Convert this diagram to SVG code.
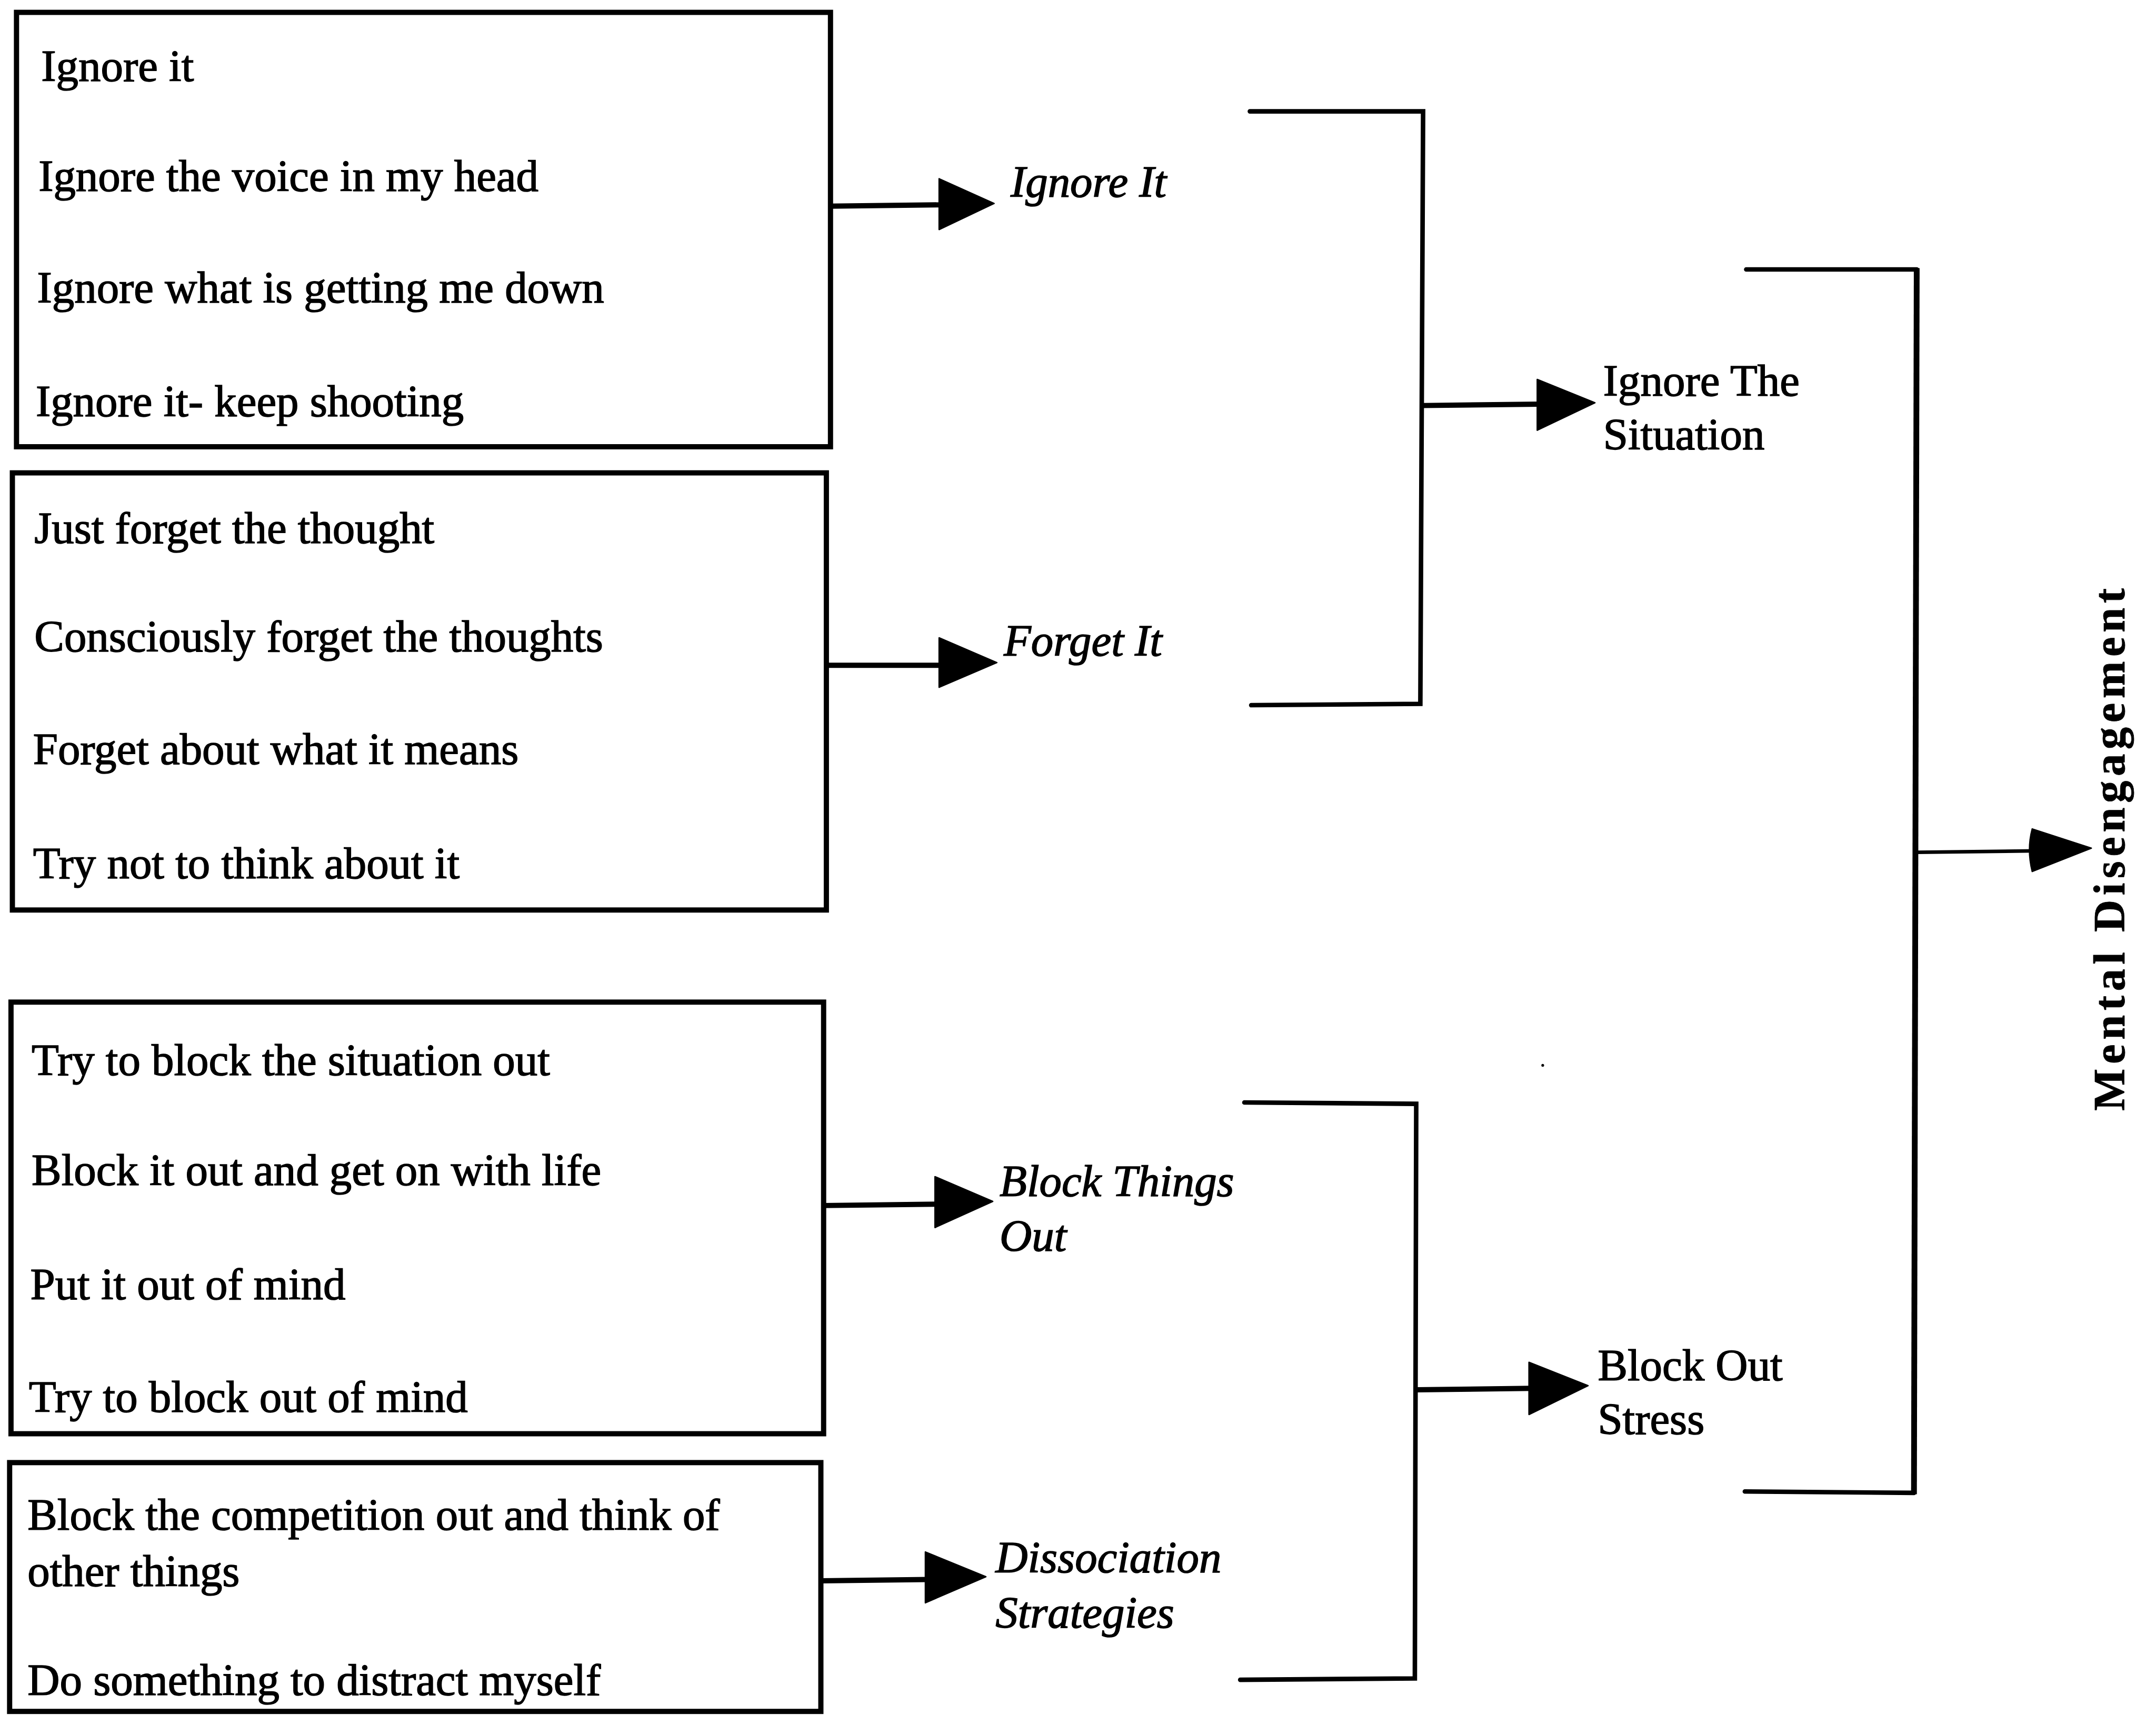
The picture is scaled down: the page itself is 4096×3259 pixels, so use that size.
<svg xmlns="http://www.w3.org/2000/svg" width="4096" height="3259" viewBox="0 0 4096 3259">
<style>
.box{fill:none;stroke:#000;stroke-width:3.8}
.ln{fill:none;stroke:#000;stroke-width:3.3;stroke-linecap:round;stroke-linejoin:miter}
.sh{fill:none;stroke:#000;stroke-width:3.8}
.hd{fill:#000;stroke:#000;stroke-width:1;stroke-linejoin:round}
.t{font-family:"Liberation Serif","Times New Roman",serif;font-size:32.5px;fill:#000;stroke:#000;stroke-width:0.6}
.i{font-style:italic}
.b{font-weight:bold;stroke-width:0.3}
</style>
<rect width="4096" height="3259" fill="#fff"/>
<g transform="scale(2.6122)">
<g id="box-ignore">
<rect class="box" x="12" y="9" width="592" height="316"/>
<text class="t" x="30" y="59">Ignore it</text>
<text class="t" x="28" y="139">Ignore the voice in my head</text>
<text class="t" x="27" y="220">Ignore what is getting me down</text>
<text class="t" x="26" y="303">Ignore it- keep shooting</text>
</g>
<g id="box-forget">
<rect class="box" x="9" y="344" width="592" height="318"/>
<text class="t" x="25" y="395">Just forget the thought</text>
<text class="t" x="25" y="474">Consciously forget the thoughts</text>
<text class="t" x="24" y="556">Forget about what it means</text>
<text class="t" x="24" y="639">Try not to think about it</text>
</g>
<g id="box-block">
<rect class="box" x="8" y="729" width="591" height="314"/>
<text class="t" x="23" y="782">Try to block the situation out</text>
<text class="t" x="23" y="862">Block it out and get on with life</text>
<text class="t" x="22" y="945">Put it out of mind</text>
<text class="t" x="21" y="1027">Try to block out of mind</text>
</g>
<g id="box-dissociation">
<rect class="box" x="7" y="1064" width="590" height="181"/>
<text class="t" x="20" y="1113">Block the competition out and think of</text>
<text class="t" x="20" y="1154">other things</text>
<text class="t" x="20" y="1233">Do something to distract myself</text>
</g>
<g id="label-ignore-it"><text class="t i" x="735" y="143">Ignore It</text></g>
<g id="label-forget-it"><text class="t i" x="730" y="477">Forget It</text></g>
<g id="label-block-things-out"><text class="t i" x="727" y="870">Block Things</text><text class="t i" x="727" y="910">Out</text></g>
<g id="label-dissociation"><text class="t i" x="724" y="1144">Dissociation</text><text class="t i" x="724" y="1184">Strategies</text></g>
<g id="label-ignore-situation"><text class="t" x="1166" y="288">Ignore The</text><text class="t" x="1166" y="327">Situation</text></g>
<g id="label-block-stress"><text class="t" x="1162" y="1004">Block Out</text><text class="t" x="1162" y="1043">Stress</text></g>
<g id="label-mental-disengagement"><text class="t b" x="0" y="0" font-size="31" textLength="380" lengthAdjust="spacing" transform="translate(1545,808) rotate(-90)">Mental  Disengagement</text></g>
<g id="connectors">
<line class="sh" x1="604" y1="150" x2="685" y2="149"/>
<polygon class="hd" points="683,130 723,148 683,167"/>
<line class="sh" x1="601" y1="484" x2="685" y2="484"/>
<polygon class="hd" points="683,464 725,482 683,500"/>
<line class="sh" x1="599" y1="877" x2="682" y2="876"/>
<polygon class="hd" points="680,856 722,874 680,893"/>
<line class="sh" x1="597" y1="1150" x2="675" y2="1149"/>
<polygon class="hd" points="673,1129 717,1147 673,1166"/>
<polyline class="ln" points="909,81 1035,81 1033,512 910,513"/>
<line class="sh" x1="1035" y1="295" x2="1120" y2="294"/>
<polygon class="hd" points="1118,276 1160,293 1118,313"/>
<polyline class="ln" points="905,802 1030,803 1029,1221 902,1222"/>
<line class="sh" x1="1030" y1="1011" x2="1114" y2="1010"/>
<polygon class="hd" points="1112,991 1155,1008 1112,1029"/>
<polyline class="ln" points="1270,196 1394,196"/>
<line x1="1394" y1="195" x2="1392" y2="1087" stroke="#000" stroke-width="4.2"/>
<polyline class="ln" points="1269,1085 1392,1086"/>
<line x1="1394" y1="620" x2="1480" y2="619" stroke="#000" stroke-width="2.6"/>
<path class="hd" d="M1478,603 L1521,617 L1478,634 Q1474,618 1478,603 Z"/>
<circle cx="1122" cy="775" r="1" fill="#000"/>
</g>
</g>
</svg>
